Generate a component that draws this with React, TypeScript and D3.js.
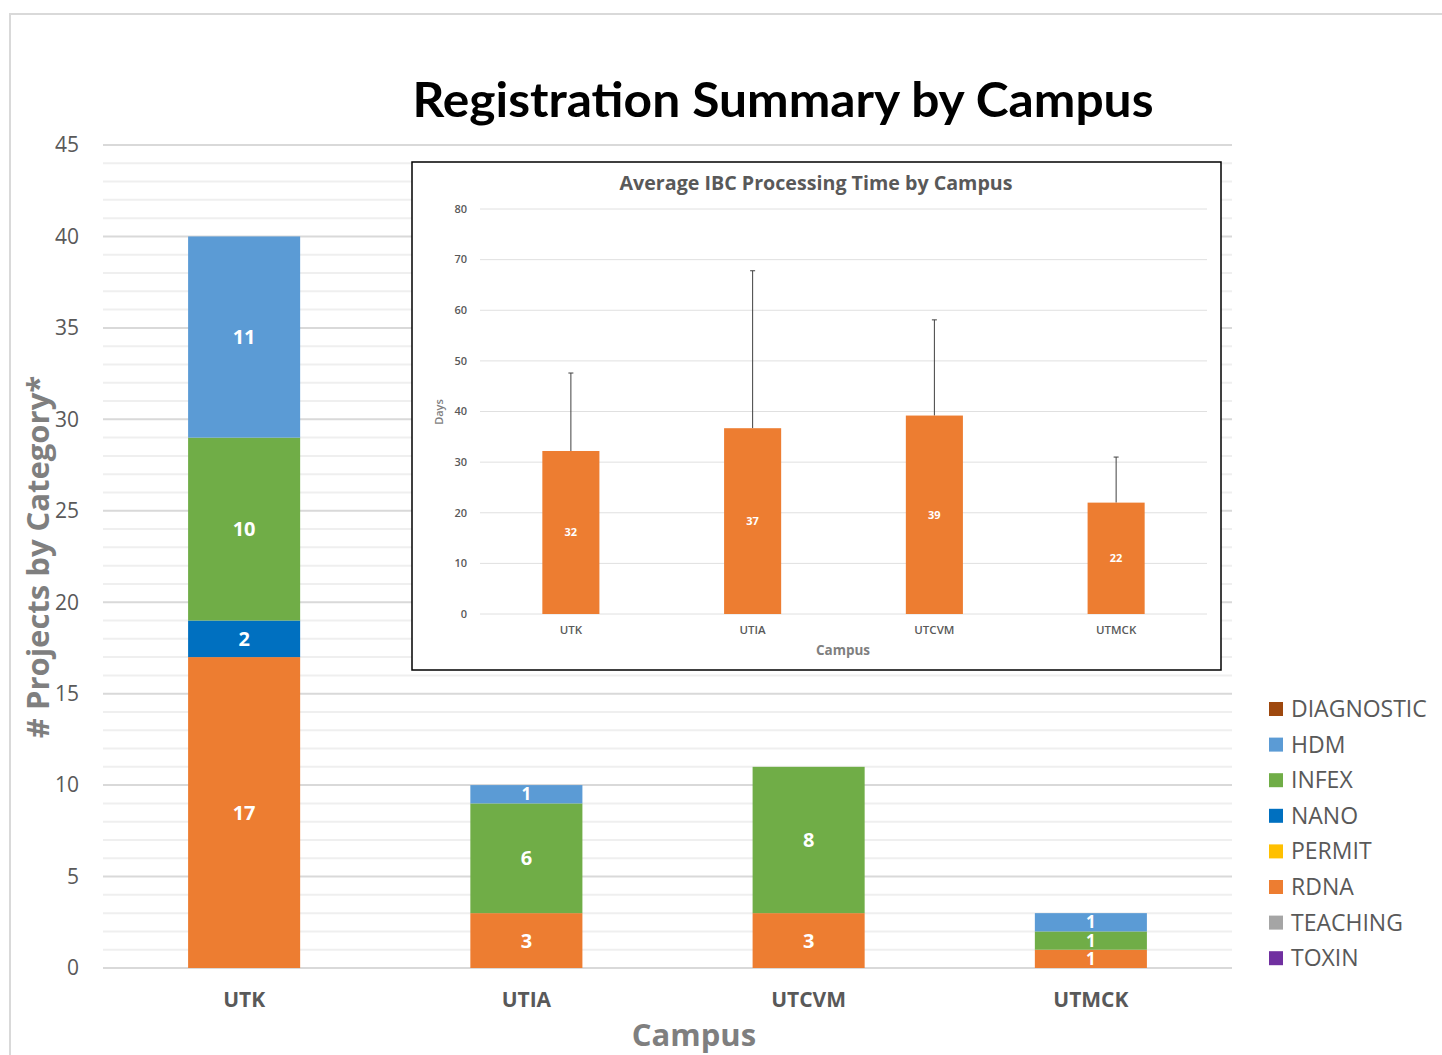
import { useEffect, useRef } from 'react';
import * as d3 from 'd3';

// main chart data
const campuses = ['UTK', 'UTIA', 'UTCVM', 'UTMCK'];
const categories = ['DIAGNOSTIC', 'HDM', 'INFEX', 'NANO', 'PERMIT', 'RDNA', 'TEACHING', 'TOXIN'];
const categoryColors = ['#9E480E', '#5B9BD5', '#70AD47', '#0070C0', '#FFC000', '#ED7D31', '#A5A5A5', '#7030A0'];
const diagnostic = [0, 0, 0, 0];
const hdm = [11, 1, 0, 1];
const infex = [10, 6, 8, 1];
const nano = [2, 0, 0, 0];
const permit = [0, 0, 0, 0];
const rdna = [17, 3, 3, 1];
const teaching = [0, 0, 0, 0];
const toxin = [0, 0, 0, 0];
const yTicks = [0, 5, 10, 15, 20, 25, 30, 35, 40, 45];

// inset data
const avgDays = [32.2, 36.7, 39.2, 22.0];
const errorPlus = [15.4, 31.1, 18.9, 9.0];
const insetTicks = [0, 10, 20, 30, 40, 50, 60, 70, 80];

const FONT = "'Open Sans', 'Noto Sans', sans-serif";
const TITLE_FONT = "Lato, 'Open Sans', sans-serif";
const GRAY = '#595959';

export default function App() {
  const ref = useRef<SVGSVGElement | null>(null);

  useEffect(() => {
    if (!ref.current) return;
    const svg = d3.select(ref.current);
    svg.selectAll('*').remove();

    // outer frame
    svg
      .append('rect')
      .attr('x', 10)
      .attr('y', 14)
      .attr('width', 1445)
      .attr('height', 1060)
      .attr('fill', 'white')
      .attr('stroke', '#d9d9d9')
      .attr('stroke-width', 2);

    const x = d3.scaleBand().domain(campuses).range([103, 1232]);
    const y = d3.scaleLinear().domain([0, 45]).range([968, 145]);
    const barW = x.bandwidth() * 0.397;

    // gridlines
    svg
      .append('g')
      .selectAll('line')
      .data(d3.range(0, 46))
      .enter()
      .append('line')
      .attr('x1', 103)
      .attr('x2', 1232)
      .attr('y1', (d) => y(d))
      .attr('y2', (d) => y(d))
      .attr('stroke', (d) => (d % 5 === 0 ? '#d9d9d9' : '#efefef'))
      .attr('stroke-width', 2);

    // y tick labels
    svg
      .append('g')
      .selectAll('text')
      .data(yTicks)
      .enter()
      .append('text')
      .attr('x', 79)
      .attr('y', (d) => y(d))
      .attr('dy', '0.35em')
      .attr('text-anchor', 'end')
      .style('font-family', FONT)
      .style('font-size', '21px')
      .style('fill', GRAY)
      .text((d) => d);

    // stacked bars
    const table = campuses.map((c, i) => ({
      campus: c,
      DIAGNOSTIC: diagnostic[i],
      HDM: hdm[i],
      INFEX: infex[i],
      NANO: nano[i],
      PERMIT: permit[i],
      RDNA: rdna[i],
      TEACHING: teaching[i],
      TOXIN: toxin[i],
    }));
    const color = d3.scaleOrdinal<string, string>().domain(categories).range(categoryColors);
    const stacked = d3.stack<any>().keys([...categories].reverse())(table);

    const layers = svg
      .append('g')
      .selectAll('g')
      .data(stacked)
      .enter()
      .append('g')
      .attr('fill', (d) => color(d.key));

    layers
      .selectAll('rect')
      .data((d) => d.filter((s) => s[1] - s[0] > 0))
      .enter()
      .append('rect')
      .attr('x', (d) => x(d.data.campus)! + x.bandwidth() / 2 - barW / 2)
      .attr('y', (d) => y(d[1]))
      .attr('width', barW)
      .attr('height', (d) => y(d[0]) - y(d[1]));

    // labels: smaller on thin segments so they don't collide
    layers
      .selectAll('text')
      .data((d) => d.filter((s) => s[1] - s[0] > 0))
      .enter()
      .append('text')
      .attr('x', (d) => x(d.data.campus)! + x.bandwidth() / 2)
      .attr('y', (d) => y((d[0] + d[1]) / 2))
      .attr('dy', '0.35em')
      .attr('text-anchor', 'middle')
      .style('font-family', FONT)
      .style('font-size', (d) => (y(d[0]) - y(d[1]) < 20 ? '17px' : '20px'))
      .style('font-weight', 'bold')
      .style('fill', 'white')
      .text((d) => d[1] - d[0]);

    // category labels
    svg
      .append('g')
      .selectAll('text')
      .data(campuses)
      .enter()
      .append('text')
      .attr('x', (d) => x(d)! + x.bandwidth() / 2)
      .attr('y', 1000)
      .attr('dy', '0.35em')
      .attr('text-anchor', 'middle')
      .style('font-family', FONT)
      .style('font-size', '21px')
      .style('font-weight', 'bold')
      .style('fill', GRAY)
      .text((d) => d);

    // axis titles
    svg
      .append('text')
      .attr('x', 694)
      .attr('y', 1035)
      .attr('dy', '0.35em')
      .attr('text-anchor', 'middle')
      .style('font-family', FONT)
      .style('font-size', '31px')
      .style('font-weight', 'bold')
      .style('fill', '#7f7f7f')
      .text('Campus');

    svg
      .append('text')
      .attr('transform', 'translate(38,557) rotate(-90)')
      .attr('dy', '0.35em')
      .attr('text-anchor', 'middle')
      .style('font-family', FONT)
      .style('font-size', '31px')
      .style('font-weight', 'bold')
      .style('fill', '#7f7f7f')
      .text('# Projects by Category*');

    // title
    svg
      .append('text')
      .attr('x', 783)
      .attr('y', 100)
      .attr('dy', '0.35em')
      .attr('text-anchor', 'middle')
      .attr('textLength', 741)
      .attr('lengthAdjust', 'spacingAndGlyphs')
      .style('font-family', TITLE_FONT)
      .style('font-size', '48px')
      .style('font-weight', 'bold')
      .style('fill', 'black')
      .text('Registration Summary by Campus');

    // legend
    const legend = svg
      .append('g')
      .selectAll('g')
      .data(categories)
      .enter()
      .append('g')
      .attr('transform', (d, i) => `translate(1269,${709 + i * 35.6})`);
    legend
      .append('rect')
      .attr('x', 0)
      .attr('y', -7)
      .attr('width', 14)
      .attr('height', 14)
      .attr('fill', (d) => color(d));
    legend
      .append('text')
      .attr('x', 22)
      .attr('dy', '0.35em')
      .style('font-family', FONT)
      .style('font-size', '23px')
      .style('fill', GRAY)
      .text((d) => d);

    // inset chart
    const inset = svg.append('g');
    inset
      .append('rect')
      .attr('x', 412)
      .attr('y', 162)
      .attr('width', 809)
      .attr('height', 508)
      .attr('fill', 'white')
      .attr('stroke', 'black')
      .attr('stroke-width', 1.5);

    const ix = d3.scaleBand().domain(campuses).range([480, 1207]);
    const iy = d3.scaleLinear().domain([0, 80]).range([614, 209]);
    const ibarW = ix.bandwidth() * 0.314;

    inset
      .append('g')
      .selectAll('line')
      .data(insetTicks)
      .enter()
      .append('line')
      .attr('x1', 480)
      .attr('x2', 1207)
      .attr('y1', (d) => iy(d))
      .attr('y2', (d) => iy(d))
      .attr('stroke', '#e0e0e0')
      .attr('stroke-width', 1);

    inset
      .append('g')
      .selectAll('text')
      .data(insetTicks)
      .enter()
      .append('text')
      .attr('x', 467)
      .attr('y', (d) => iy(d))
      .attr('dy', '0.35em')
      .attr('text-anchor', 'end')
      .style('font-family', FONT)
      .style('font-size', '11px')
      .style('font-weight', 600)
      .style('fill', GRAY)
      .text((d) => d);

    const insetData = campuses.map((c, i) => ({ campus: c, days: avgDays[i], err: errorPlus[i] }));

    // error bars (upper only)
    const errG = inset
      .append('g')
      .attr('stroke', '#404040')
      .attr('stroke-width', 1);
    errG
      .selectAll('line.stem')
      .data(insetData)
      .enter()
      .append('line')
      .attr('class', 'stem')
      .attr('x1', (d) => ix(d.campus)! + ix.bandwidth() / 2)
      .attr('x2', (d) => ix(d.campus)! + ix.bandwidth() / 2)
      .attr('y1', (d) => iy(d.days))
      .attr('y2', (d) => iy(d.days + d.err));
    errG
      .selectAll('line.cap')
      .data(insetData)
      .enter()
      .append('line')
      .attr('class', 'cap')
      .attr('x1', (d) => ix(d.campus)! + ix.bandwidth() / 2 - 2.5)
      .attr('x2', (d) => ix(d.campus)! + ix.bandwidth() / 2 + 2.5)
      .attr('y1', (d) => iy(d.days + d.err))
      .attr('y2', (d) => iy(d.days + d.err));

    inset
      .append('g')
      .selectAll('rect')
      .data(insetData)
      .enter()
      .append('rect')
      .attr('x', (d) => ix(d.campus)! + ix.bandwidth() / 2 - ibarW / 2)
      .attr('y', (d) => iy(d.days))
      .attr('width', ibarW)
      .attr('height', (d) => iy(0) - iy(d.days))
      .attr('fill', '#ED7D31');

    inset
      .append('g')
      .selectAll('text')
      .data(insetData)
      .enter()
      .append('text')
      .attr('x', (d) => ix(d.campus)! + ix.bandwidth() / 2)
      .attr('y', (d) => iy(d.days / 2))
      .attr('dy', '0.35em')
      .attr('text-anchor', 'middle')
      .style('font-family', FONT)
      .style('font-size', '11px')
      .style('font-weight', 'bold')
      .style('fill', 'white')
      .text((d) => Math.round(d.days));

    inset
      .append('g')
      .selectAll('text')
      .data(campuses)
      .enter()
      .append('text')
      .attr('x', (d) => ix(d)! + ix.bandwidth() / 2)
      .attr('y', 630)
      .attr('dy', '0.35em')
      .attr('text-anchor', 'middle')
      .style('font-family', FONT)
      .style('font-size', '11.5px')
      .style('font-weight', 600)
      .style('fill', GRAY)
      .text((d) => d);

    inset
      .append('text')
      .attr('x', 843)
      .attr('y', 650)
      .attr('dy', '0.35em')
      .attr('text-anchor', 'middle')
      .style('font-family', FONT)
      .style('font-size', '13.5px')
      .style('font-weight', 'bold')
      .style('fill', '#7f7f7f')
      .text('Campus');

    inset
      .append('text')
      .attr('transform', 'translate(439,412) rotate(-90)')
      .attr('dy', '0.35em')
      .attr('text-anchor', 'middle')
      .style('font-family', FONT)
      .style('font-size', '11px')
      .style('font-weight', 600)
      .style('fill', '#7f7f7f')
      .text('Days');

    inset
      .append('text')
      .attr('x', 816)
      .attr('y', 183)
      .attr('dy', '0.35em')
      .attr('text-anchor', 'middle')
      .attr('textLength', 393)
      .attr('lengthAdjust', 'spacingAndGlyphs')
      .style('font-family', FONT)
      .style('font-size', '19px')
      .style('font-weight', 'bold')
      .style('fill', GRAY)
      .text('Average IBC Processing Time by Campus');
  }, []);

  return (
    <div style={{ position: 'absolute', left: 0, top: 0, width: 1442, height: 1055, overflow: 'hidden' }}>
      <svg ref={ref} width={1442} height={1055} style={{ display: 'block', background: 'white' }} />
    </div>
  );
}
